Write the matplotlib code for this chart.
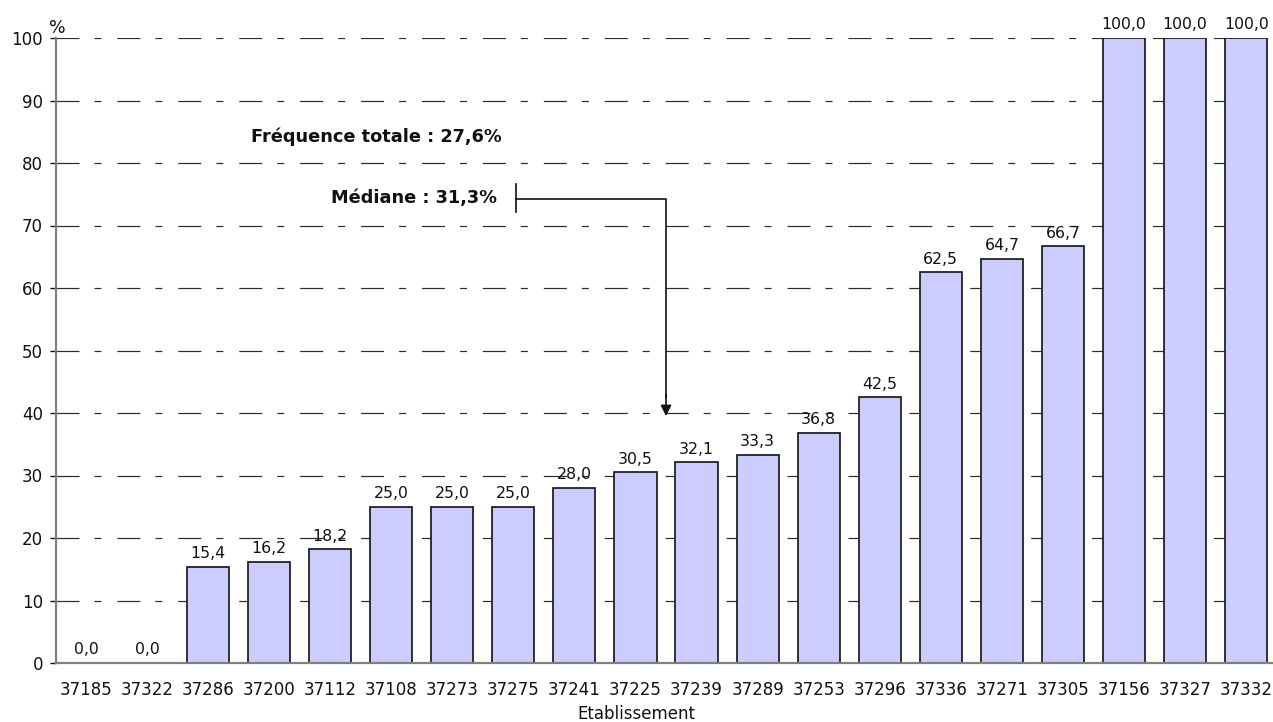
import matplotlib
matplotlib.use("Agg")
import matplotlib.pyplot as plt

categories = ["37185", "37322", "37286", "37200", "37112", "37108", "37273", "37275",
              "37241", "37225", "37239", "37289", "37253", "37296", "37336", "37271",
              "37305", "37156", "37327", "37332"]
values = [0.0, 0.0, 15.4, 16.2, 18.2, 25.0, 25.0, 25.0, 28.0, 30.5, 32.1, 33.3,
          36.8, 42.5, 62.5, 64.7, 66.7, 100.0, 100.0, 100.0]
yticks = list(range(0, 101, 10))
freq_text = "Fréquence totale : 27,6%"
median_text = "Médiane : 31,3%"
median_value = 31.3

plt.rcParams['font.family'] = ['DejaVu Sans']

W, H = 1273, 722
fig = plt.figure(figsize=(W / 100, H / 100), dpi=100)
ax = fig.add_axes([56 / W, 1 - 663 / H, (W - 56) / W, (663 - 38) / H])

x = list(range(len(categories)))
bars = ax.bar(x, values, width=0.69, color="#CCCCFF", edgecolor="#111111",
              linewidth=1.2, zorder=3)
for xi, v in zip(x, values):
    ax.annotate(f"{v:.1f}".replace(".", ","), (xi, v), xytext=(0, 4),
                textcoords="offset points", ha="center", va="bottom",
                fontsize=11.3, color="#111111", zorder=4)

ax.set_xlim(-0.49, 19.44)
ax.set_ylim(0, 100)
ax.set_yticks(yticks)
ax.set_xticks(x)
ax.set_xticklabels(categories)
ax.tick_params(axis="x", length=0, pad=13, labelsize=12, colors="#111111")
ax.tick_params(axis="y", length=4.3, width=1, pad=5, labelsize=12, color="#111111",
               labelcolor="#111111")

ax.yaxis.grid(True, color="#2a2a2a", linewidth=0.85,
              linestyle=(0, (19.5, 12.7, 5.9, 13.5)), zorder=1)
ax.xaxis.grid(False)
ax.set_axisbelow(True)
for s in ["top", "right"]:
    ax.spines[s].set_visible(False)
for s in ["left", "bottom"]:
    ax.spines[s].set_color("#808080")
    ax.spines[s].set_linewidth(1.6)
    ax.spines[s].set_zorder(5)

# annotations
ax.text(6.81, 84.2, freq_text, ha="right", va="center", fontsize=12.8,
        fontweight="bold", color="#111111")
ax.text(6.73, 74.4, median_text, ha="right", va="center", fontsize=12.8,
        fontweight="bold", color="#111111")
ax.plot([7.04, 7.04], [72.2, 76.6], color="#111111", lw=1.2, zorder=6)
ax.plot([7.04, 9.50, 9.50], [74.2, 74.2, 42.5], color="#111111", lw=1.2, zorder=6)
ax.annotate("", xy=(9.50, 39.5), xytext=(9.50, 43.0),
            arrowprops=dict(arrowstyle="-|>", color="#111111", lw=1.2,
                            mutation_scale=16, shrinkA=0, shrinkB=0), zorder=6)

fig.text(57 / W, 1 - 28 / H, "%", ha="center", va="center", fontsize=12.5,
         color="#111111")
fig.text(0.5, 1 - 714 / H, "Etablissement", ha="center", va="center",
         fontsize=12, color="#111111")

fig.savefig("out.png", dpi=100)
